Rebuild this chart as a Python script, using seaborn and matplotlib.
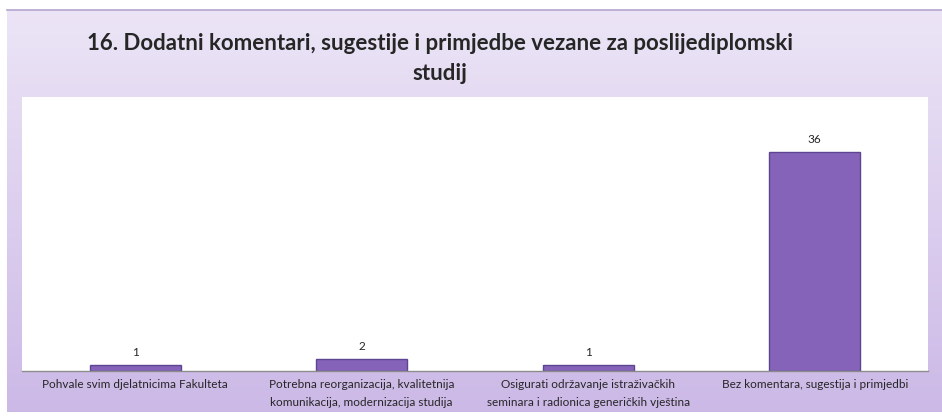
import matplotlib.pyplot as plt
import numpy as np
import pandas as pd
import seaborn as sns

categories = [
    "Pohvale svim djelatnicima Fakulteta",
    "Potrebna reorganizacija, kvalitetnija\nkomunikacija, modernizacija studija",
    "Osigurati održavanje istraživačkih\nseminara i radionica generičkih vještina",
    "Bez komentara, sugestija i primjedbi",
]
counts = [1, 2, 1, 36]
title = "16. Dodatni komentari, sugestije i primjedbe vezane za poslijediplomski\nstudij"

sns.set_theme(style="white")
plt.rcParams["font.family"] = ["Lato", "DejaVu Sans"]

df = pd.DataFrame({"cat": categories, "n": counts})

fig = plt.figure(figsize=(9.42, 4.16), dpi=100)

# lilac gradient background frame
bg = fig.add_axes([7 / 942, 4 / 416, 935 / 942, 402 / 416])
grad = np.linspace(0, 1, 256).reshape(-1, 1)
top = np.array([0.925, 0.898, 0.965])
bot = np.array([0.800, 0.725, 0.905])
img = top + (bot - top) * grad[..., None]
bg.imshow(img, aspect="auto", extent=[0, 1, 0, 1])
bg.set_xticks([])
bg.set_yticks([])
for s in bg.spines.values():
    s.set_visible(False)
bg.spines["top"].set_visible(True)
bg.spines["top"].set_color("#b8a8d0")

ax = fig.add_axes([22 / 942, 45 / 416, 906 / 942, 274 / 416])
ax.set_facecolor("white")
sns.barplot(data=df, x="cat", y="n", ax=ax, color="#8463b8", width=0.4,
            edgecolor="#5e4592", linewidth=1.0, saturation=1)
ax.set_ylim(0, 45)
ax.set_xlim(-0.5, 3.5)
ax.set_yticks([])
ax.set_xlabel("")
ax.set_ylabel("")
for s in ["top", "right", "left"]:
    ax.spines[s].set_visible(False)
ax.spines["bottom"].set_color("#8c8c8c")
ax.spines["bottom"].set_linewidth(1.0)
ax.tick_params(axis="x", length=0, pad=6, labelsize=8.5)
for lbl in ax.get_xticklabels():
    lbl.set_linespacing(1.75)
for c in ax.containers:
    ax.bar_label(c, padding=5, fontsize=8.5)

fig.text(0.467, 0.86, title, ha="center", va="center", fontsize=16,
         fontweight="bold", linespacing=1.55)

fig.savefig("out.png", dpi=100, facecolor="white")
